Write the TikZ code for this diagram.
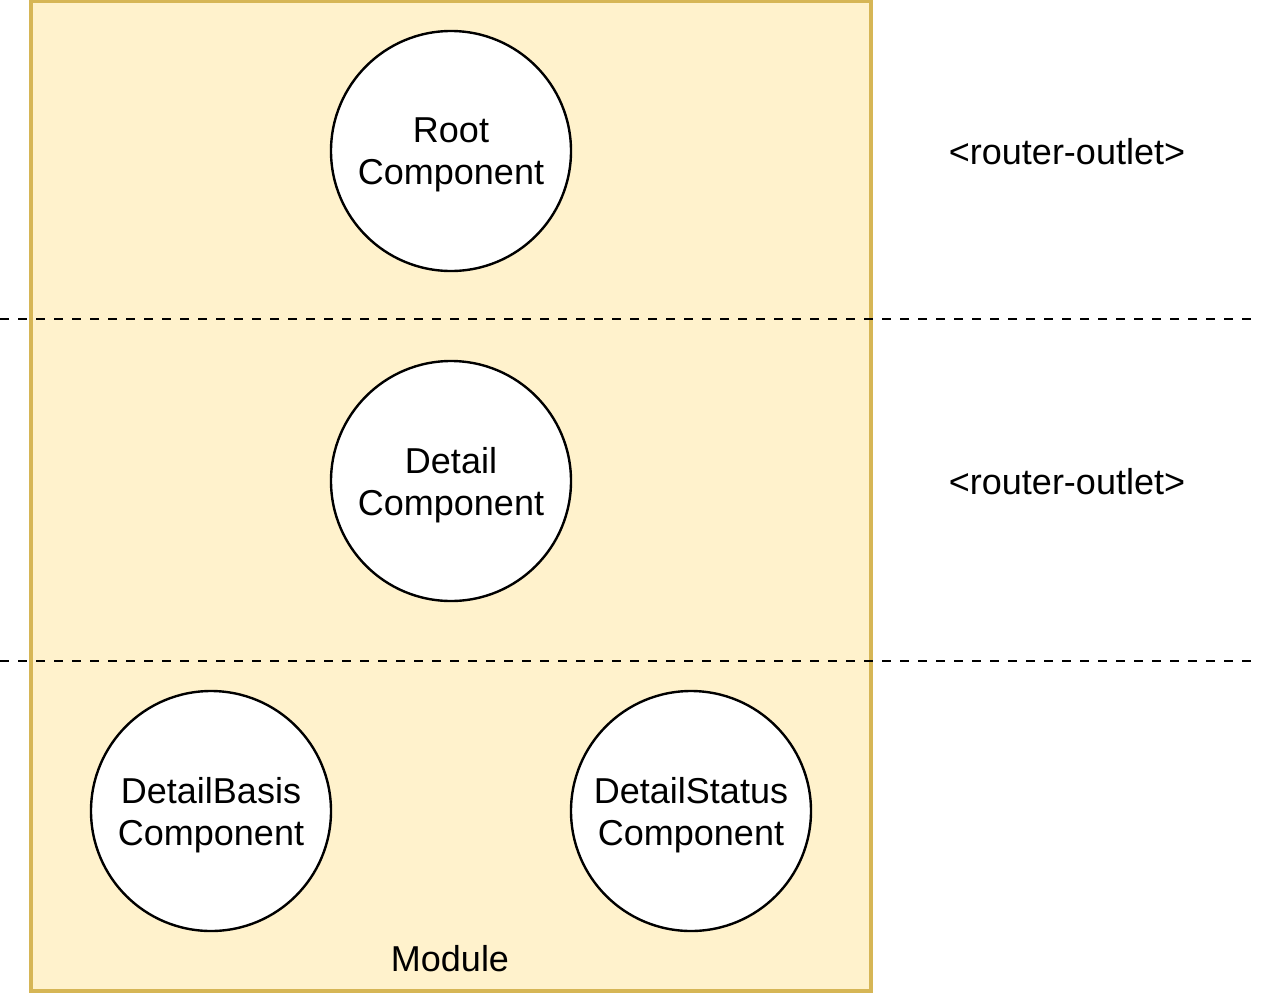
\documentclass[tikz,border=0pt]{standalone}
\usepackage{fontspec}
\setmainfont{Liberation Sans}
\usetikzlibrary{positioning}
\definecolor{modFill}{HTML}{FFF2CC}
\definecolor{modDraw}{HTML}{D6B656}
\tikzset{
  modBox/.style={draw=modDraw, fill=modFill, line width=2.6pt},
  compCircle/.style={
    circle,
    draw=black,
    fill=white,
    line width=1.8pt,
    minimum size=180pt,
    inner sep=0pt,
    text depth=0pt,
    align=center,
    font=\fontsize{27}{31.5}\selectfont
  },
  outletLabel/.style={align=center, font=\fontsize{27}{31.5}\selectfont},
  layerLine/.style={draw=black, line width=1.7pt, dash pattern=on 6.75pt off 6.75pt}
}
\begin{document}
\begin{tikzpicture}[x=0.75pt, y=-0.75pt]
  \useasboundingbox (0,0) rectangle (1266,993);
  \draw[modBox] (31,1) rectangle (871,991);
  \node[outletLabel] (modLabel) at (450,959) {Module};

  \coordinate (line1L) at (0,319);
  \coordinate (line1R) at (1254,319);
  \coordinate (line2L) at (0,661);
  \coordinate (line2R) at (1254,661);
  \draw[layerLine] (line1L) -- (line1R);
  \draw[layerLine] (line2L) -- (line2R);

  \node[compCircle] (root) at (451,151) {Root\\Component};
  \node[compCircle] (detail) at (451,481) {Detail\\Component};
  \node[compCircle] (basis) at (211,811) {DetailBasis\\Component};
  \node[compCircle] (status) at (691,811) {DetailStatus\\Component};

  \node[outletLabel] (outlet1) at (1067,152) {<router-outlet>};
  \node[outletLabel] (outlet2) at (1067,482) {<router-outlet>};
\end{tikzpicture}
\end{document}
